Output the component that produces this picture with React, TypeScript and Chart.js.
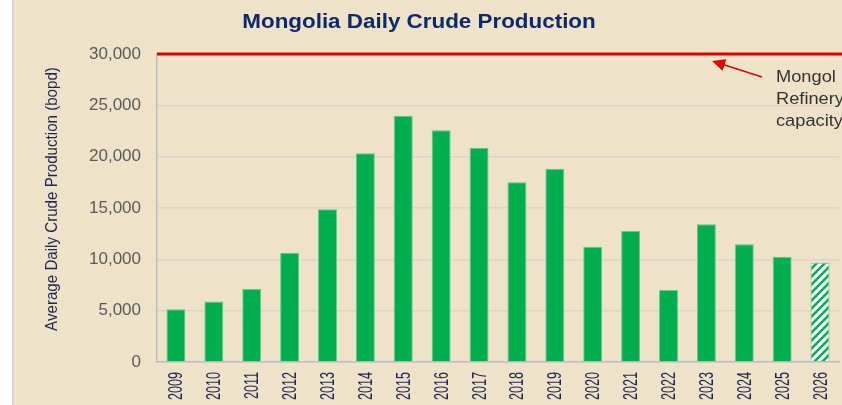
import { useEffect, useRef } from "react";
import { Chart, registerables } from "chart.js";

Chart.register(...registerables);

const chartTitle = "Mongolia Daily Crude Production";
const yAxisTitle = "Average Daily Crude Production (bopd)";
const years = ["2009", "2010", "2011", "2012", "2013", "2014", "2015", "2016", "2017", "2018", "2019", "2020", "2021", "2022", "2023", "2024", "2025", "2026"];
const production = [5150, 5900, 7100, 10650, 14870, 20330, 23990, 22570, 20880, 17500, 18830, 11230, 12760, 7010, 13410, 11460, 10260, 9670];
const forecastYears = ["2026"];
const refineryCapacity = 30000;
const yMin = 0;
const yMax = 30000;
const yStep = 5000;
const annotationLines = ["Mongol", "Refinery", "capacity"];

const GREEN = "#00AD4F";
const BG = "#EEE2C8";
const FONT = "'Liberation Sans', Arial, sans-serif";

function makePattern(): CanvasPattern | string {
  const c = document.createElement("canvas");
  c.width = 8;
  c.height = 8;
  const g = c.getContext("2d");
  if (!g) return GREEN;
  g.fillStyle = "#ffffff";
  g.fillRect(0, 0, 8, 8);
  g.strokeStyle = GREEN;
  g.lineWidth = 2.6;
  g.beginPath();
  g.moveTo(-2, 10);
  g.lineTo(10, -2);
  g.moveTo(-6, 6);
  g.lineTo(6, -6);
  g.moveTo(2, 14);
  g.lineTo(14, 2);
  g.stroke();
  const p = g.createPattern(c, "repeat");
  return p || GREEN;
}

const decorPlugin = {
  id: "decor",
  beforeDraw(chart: any) {
    const { ctx, width, height } = chart;
    ctx.save();
    ctx.fillStyle = "#ffffff";
    ctx.fillRect(0, 0, width, height);
    ctx.fillStyle = BG;
    ctx.fillRect(13, 0, width - 13, height);
    ctx.fillStyle = "#D4D0C8";
    ctx.fillRect(12, 0, 1.5, height);
    ctx.restore();
  },
  afterDraw(chart: any) {
    const { ctx, chartArea, scales } = chart;
    const y = scales.y.getPixelForValue(refineryCapacity);
    ctx.save();
    // refinery capacity line
    ctx.strokeStyle = "#E00000";
    ctx.lineWidth = 3;
    ctx.beginPath();
    ctx.moveTo(chartArea.left, y);
    ctx.lineTo(chart.width, y);
    ctx.stroke();
    // arrow
    const tipX = 712;
    const tipY = y + 7;
    const tailX = 762;
    const tailY = y + 23;
    ctx.strokeStyle = "#E00000";
    ctx.lineWidth = 1.6;
    ctx.beginPath();
    ctx.moveTo(tailX, tailY);
    ctx.lineTo(tipX + 8, tipY + 2.6);
    ctx.stroke();
    const ang = Math.atan2(tipY - tailY, tipX - tailX);
    const L = 13;
    const W = 6;
    ctx.fillStyle = "#E00000";
    ctx.beginPath();
    ctx.moveTo(tipX, tipY);
    ctx.lineTo(tipX - L * Math.cos(ang) + W * Math.sin(ang), tipY - L * Math.sin(ang) - W * Math.cos(ang));
    ctx.lineTo(tipX - L * Math.cos(ang) - W * Math.sin(ang), tipY - L * Math.sin(ang) + W * Math.cos(ang));
    ctx.closePath();
    ctx.fill();
    // annotation text
    ctx.fillStyle = "#333333";
    ctx.font = "16px " + FONT;
    ctx.textAlign = "left";
    ctx.textBaseline = "middle";
    annotationLines.forEach((t, i) => {
      ctx.save();
      ctx.translate(776, y + 24 + i * 22);
      ctx.scale(1.14, 1);
      ctx.fillText(t, 0, 0);
      ctx.restore();
    });
    // title
    ctx.save();
    ctx.fillStyle = "#0C2A6B";
    ctx.font = "bold 20px " + FONT;
    ctx.textAlign = "center";
    ctx.textBaseline = "middle";
    ctx.translate(419, 22);
    ctx.scale(1.12, 1);
    ctx.fillText(chartTitle, 0, 0);
    ctx.restore();
    // y axis title
    ctx.save();
    ctx.fillStyle = "#1E2454";
    ctx.font = "17px " + FONT;
    ctx.textAlign = "center";
    ctx.textBaseline = "middle";
    ctx.translate(52, 199);
    ctx.rotate(-Math.PI / 2);
    ctx.scale(0.89, 1);
    ctx.fillText(yAxisTitle, 0, 0);
    ctx.restore();
    // x tick labels
    const xs = scales.x;
    ctx.fillStyle = "#1E2454";
    ctx.font = "20px " + FONT;
    ctx.textAlign = "right";
    ctx.textBaseline = "middle";
    years.forEach((yr, i) => {
      ctx.save();
      ctx.translate(xs.getPixelForValue(i) + 1, chartArea.bottom + 10);
      ctx.rotate(-Math.PI / 2);
      ctx.scale(0.63, 1);
      ctx.fillText(yr, 0, 0);
      ctx.restore();
    });
    ctx.restore();
  },
};

export default function App() {
  const ref = useRef<HTMLCanvasElement | null>(null);
  useEffect(() => {
    if (!ref.current) return;
    const pattern = makePattern();
    const colors = years.map((yr) => (forecastYears.includes(yr) ? pattern : GREEN));
    const borders = years.map((yr) => (forecastYears.includes(yr) ? "rgba(0,173,79,0.6)" : "#5FCB8C"));
    const chart = new Chart(ref.current, {
      type: "bar",
      data: {
        labels: years,
        datasets: [
          {
            data: production,
            backgroundColor: colors as any,
            borderColor: borders,
            borderWidth: 1,
            barPercentage: 0.5,
            categoryPercentage: 1,
          },
        ],
      },
      options: {
        responsive: false,
        animation: false,
        layout: { padding: { left: 0, top: 54, right: 3, bottom: 0 } },
        plugins: {
          legend: { display: false },
          tooltip: { enabled: false },
          title: { display: false },
        },
        scales: {
          x: {
            grid: { display: false, drawTicks: false },
            border: { display: true, color: "#BDBDBD", width: 1.5 },
            ticks: { display: false, autoSkip: false },
            afterFit: (s: any) => {
              s.height = 43;
            },
          },
          y: {
            min: yMin,
            max: yMax,
            ticks: {
              stepSize: yStep,
              color: "#5A5A5A",
              font: { size: 17, family: FONT },
              padding: 16,
            },
            grid: { color: "#DAD6CE", lineWidth: 1.5, drawTicks: false },
            border: { display: true, color: "#BDBDBD", width: 1.5 },
            afterFit: (s: any) => {
              s.width = 157;
            },
          },
        },
      },
      plugins: [decorPlugin],
    });
    return () => chart.destroy();
  }, []);
  return (
    <div style={{ position: "fixed", left: 0, top: 0, width: 842, height: 405 }}>
      <canvas ref={ref} width={842} height={405} style={{ display: "block" }} />
    </div>
  );
}
